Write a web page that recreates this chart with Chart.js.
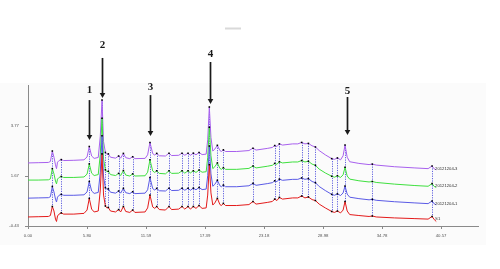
<!DOCTYPE html>
<html>
<head>
<meta charset="utf-8">
<script src="https://cdn.jsdelivr.net/npm/chart.js@4/dist/chart.umd.min.js"></script>
<style>
html,body{margin:0;padding:0;background:#fff;}
canvas{display:block;}
</style>
</head>
<body>
<canvas id="c" width="500" height="269"></canvas>
<script>
// retention times (min)
const times = [0,1.0,2.0,2.2,2.39,2.55,2.7,2.8,2.9,3.05,3.27,3.5,4.5,5.5,5.8,6.02,6.25,6.5,6.9,7.1,7.27,7.42,7.6,7.75,7.89,8.1,8.6,8.9,9.1,9.37,9.6,10.0,10.28,10.5,11.5,11.75,11.98,12.25,12.45,12.64,12.9,13.5,13.85,14.1,14.8,15.13,15.4,15.72,15.95,16.24,16.5,16.8,17.1,17.5,17.65,17.81,17.97,18.15,18.35,18.6,18.85,19.0,19.19,19.4,20.5,21.7,22.1,22.4,23.5,24.0,24.23,24.45,24.69,25.0,26.0,26.5,26.88,27.2,27.54,27.9,28.23,28.6,29.2,29.83,30.1,30.39,30.7,30.95,31.14,31.35,31.6,32.5,33.5,33.82,34.2,36.0,38.0,39.3,39.69,39.9,40.1];

const seriesNames = ['S1','20121204-1','20121204-2','20121204-3'];

const s1 = [-0.05,-0.04,-0.03,0.01,0.39,0.20,-0.14,-0.24,-0.01,0.07,0.12,0.07,0.07,0.10,0.24,0.73,0.28,0.16,0.20,1.08,2.60,0.87,0.41,0.33,0.35,0.20,0.16,0.26,0.16,0.39,0.18,0.14,0.24,0.14,0.16,0.33,0.87,0.37,0.31,0.39,0.26,0.24,0.39,0.26,0.28,0.39,0.28,0.39,0.28,0.39,0.31,0.43,0.31,0.33,0.87,2.15,0.96,0.45,0.54,0.73,0.47,0.43,0.52,0.43,0.43,0.47,0.60,0.49,0.56,0.60,0.70,0.64,0.77,0.70,0.75,0.75,0.83,0.75,0.79,0.68,0.64,0.49,0.33,0.18,0.14,0.20,0.12,0.24,0.60,0.20,0.05,0.01,-0.03,-0.01,-0.05,-0.09,-0.12,-0.14,-0.03,-0.16,-0.24];

const s2 = [-0.04,-0.03,-0.02,0.02,0.45,0.22,-0.08,-0.20,0.00,0.08,0.12,0.08,0.08,0.10,0.22,0.66,0.26,0.16,0.20,1.05,2.58,0.85,0.40,0.33,0.35,0.21,0.17,0.26,0.17,0.37,0.19,0.15,0.23,0.15,0.17,0.31,0.83,0.36,0.30,0.37,0.27,0.26,0.38,0.28,0.29,0.38,0.29,0.38,0.29,0.38,0.31,0.41,0.32,0.34,0.90,2.15,0.98,0.46,0.54,0.71,0.48,0.44,0.51,0.44,0.44,0.48,0.58,0.50,0.57,0.61,0.69,0.65,0.76,0.71,0.75,0.75,0.81,0.75,0.78,0.66,0.61,0.45,0.28,0.12,0.08,0.14,0.07,0.18,0.47,0.13,0.00,-0.06,-0.11,-0.09,-0.13,-0.19,-0.24,-0.27,-0.16,-0.28,-0.32];

const s3 = [-0.02,-0.02,-0.01,0.03,0.46,0.24,-0.06,-0.18,0.02,0.09,0.13,0.09,0.09,0.11,0.23,0.66,0.27,0.17,0.21,1.06,2.58,0.86,0.41,0.33,0.35,0.21,0.17,0.26,0.17,0.38,0.19,0.15,0.24,0.15,0.16,0.31,0.83,0.36,0.30,0.37,0.26,0.24,0.37,0.26,0.27,0.37,0.27,0.37,0.28,0.37,0.30,0.40,0.31,0.33,0.92,2.20,1.00,0.46,0.54,0.70,0.47,0.43,0.50,0.43,0.43,0.47,0.57,0.49,0.56,0.60,0.68,0.64,0.75,0.70,0.74,0.74,0.80,0.74,0.77,0.65,0.60,0.44,0.28,0.14,0.10,0.16,0.09,0.20,0.52,0.15,0.02,-0.05,-0.10,-0.08,-0.12,-0.19,-0.25,-0.28,-0.17,-0.29,-0.33];

const s4 = [-0.02,-0.01,0.00,0.04,0.48,0.22,-0.10,-0.26,0.01,0.08,0.12,0.08,0.09,0.11,0.23,0.67,0.27,0.17,0.21,1.10,2.62,0.88,0.42,0.34,0.36,0.22,0.18,0.27,0.18,0.38,0.20,0.16,0.24,0.16,0.17,0.32,0.84,0.37,0.31,0.38,0.28,0.27,0.39,0.29,0.30,0.39,0.30,0.39,0.30,0.39,0.32,0.42,0.33,0.35,0.95,2.33,1.05,0.48,0.56,0.72,0.50,0.46,0.53,0.46,0.46,0.50,0.60,0.52,0.59,0.63,0.71,0.67,0.78,0.73,0.78,0.78,0.84,0.78,0.80,0.70,0.65,0.50,0.32,0.16,0.13,0.19,0.11,0.28,0.73,0.22,0.03,-0.04,-0.09,-0.07,-0.11,-0.18,-0.23,-0.26,-0.15,-0.27,-0.31];

// peaks marked on every trace (retention times)
const peakTimes = [2.39,3.27,6.02,7.27,7.6,7.89,8.9,9.37,10.28,11.98,12.64,13.85,15.13,15.72,16.24,16.8,17.81,18.6,19.19,22.1,24.23,24.69,26.88,27.54,28.23,29.83,30.39,31.14,33.82,39.69];

// axis ticks
const xTickValues = [0,5.796,11.591,17.387,23.183,28.979,34.774,40.57];
const xTickLabels = ['0.00','5.80','11.59','17.39','23.18','28.98','34.78','40.57'];
const yTickValues = [-0.43,1.67,3.77];
const yTickLabels = ['-0.43','1.67','3.77'];

// numbered arrows
const arrowLabels = ['1','2','3','4','5'];
const arrowTimes = [6.02,7.27,11.95,17.9,31.3];

// ---- display settings (not data) ----
const stackOffsets = [0, 0.78, 1.52, 2.24];
const colors = ['#e41a1a','#5a5ae6','#3fe03f','#a860ee'];
const arrowTail = [4.86,6.63,5.07,6.46,4.99];
const arrowTip = [3.18,4.95,3.35,4.70,3.39];
const arrowText = [5.28,7.17,5.41,6.80,5.24];

const series = [s1,s2,s3,s4];
const peakSet = new Set(peakTimes);

const datasets = series.map((vals, i) => ({
  label: seriesNames[i],
  data: times.map((t, j) => ({x: t, y: vals[j] + stackOffsets[i]})),
  borderColor: colors[i],
  borderWidth: 1,
  tension: 0,
  fill: false,
  pointStyle: 'rect',
  pointRadius: ctx => (ctx.raw && peakSet.has(ctx.raw.x)) ? 1.1 : 0,
  pointBackgroundColor: '#000',
  pointBorderColor: '#000',
  pointBorderWidth: 0,
  pointHoverRadius: 0
}));

const bgPlugin = {
  id: 'bg',
  beforeDraw(chart) {
    const c = chart.ctx;
    c.save();
    c.fillStyle = '#fbfbfb';
    c.fillRect(0, 83, 486, 162);
    // small gray mark near the top
    c.strokeStyle = '#d9d9d9';
    c.lineWidth = 2;
    c.beginPath(); c.moveTo(225, 28.5); c.lineTo(241, 28.5); c.stroke();
    c.restore();
  }
};

const dotPlugin = {
  id: 'dots',
  beforeDatasetsDraw(chart) {
    const c = chart.ctx;
    const top = chart.getDatasetMeta(3).data;
    const bot = chart.getDatasetMeta(0).data;
    c.save();
    c.strokeStyle = '#5050dc';
    c.lineWidth = 0.9;
    c.setLineDash([1.2, 1.2]);
    times.forEach((t, j) => {
      if (!peakSet.has(t)) return;
      const x = Math.round(top[j].x) + 0.5;
      c.beginPath();
      c.moveTo(x, top[j].y);
      c.lineTo(x, bot[j].y);
      c.stroke();
    });
    c.restore();
  },
  afterDraw(chart) {
    const c = chart.ctx;
    const xs = chart.scales.x, ys = chart.scales.y;
    c.save();
    // series labels at right end
    c.fillStyle = '#333';
    c.font = '4.2px "Liberation Sans"';
    c.textBaseline = 'middle';
    c.textAlign = 'left';
    const lastPeak = times.indexOf(39.69);
    series.forEach((v, i) => {
      const el = chart.getDatasetMeta(i).data[lastPeak];
      c.fillText(seriesNames[i], el.x + 3, el.y + 2.5);
    });
    // arrows
    arrowLabels.forEach((lab, i) => {
      const x = Math.round(xs.getPixelForValue(arrowTimes[i])) + 0.5;
      const y0 = ys.getPixelForValue(arrowTail[i]);
      const y1 = ys.getPixelForValue(arrowTip[i]);
      const yt = ys.getPixelForValue(arrowText[i]);
      c.strokeStyle = '#1a1a1a';
      c.fillStyle = '#1a1a1a';
      c.lineWidth = 1.7;
      c.setLineDash([]);
      c.beginPath(); c.moveTo(x, y0); c.lineTo(x, y1 - 4); c.stroke();
      c.beginPath();
      c.moveTo(x - 2.8, y1 - 5); c.lineTo(x + 2.8, y1 - 5); c.lineTo(x, y1); c.closePath(); c.fill();
      c.font = 'bold 11px "Liberation Serif"';
      c.textAlign = 'center';
      c.textBaseline = 'middle';
      c.fillText(lab, x, yt);
    });
    c.restore();
  }
};

const axisCommon = {
  grid: {drawOnChartArea: false, drawTicks: true, tickLength: 3, color: '#8a8a8a', lineWidth: 1},
  border: {display: true, color: '#8a8a8a', width: 1}
};

new Chart(document.getElementById('c'), {
  type: 'line',
  data: {datasets},
  options: {
    responsive: false,
    animation: false,
    devicePixelRatio: 1,
    layout: {padding: {left: 0, right: 22, top: 85, bottom: 0}},
    plugins: {legend: {display: false}, tooltip: {enabled: false}},
    scales: {
      x: Object.assign({
        type: 'linear', min: 0, max: 44.2,
        afterFit(s) { s.height = 43; },
        afterBuildTicks(s) { s.ticks = xTickValues.map(v => ({value: v})); },
        ticks: {
          callback: (v, i) => xTickLabels[i],
          font: {size: 4.3, family: 'Liberation Sans'},
          color: '#555', padding: 4, maxRotation: 0, autoSkip: false
        }
      }, axisCommon),
      y: Object.assign({
        type: 'linear', min: -0.43, max: 5.494,
        afterFit(s) { s.width = 28; },
        afterBuildTicks(s) { s.ticks = yTickValues.map(v => ({value: v})); },
        ticks: {
          callback: (v, i) => yTickLabels[i],
          font: {size: 4.3, family: 'Liberation Sans'},
          color: '#555', padding: 6, autoSkip: false
        }
      }, axisCommon)
    }
  },
  plugins: [bgPlugin, dotPlugin]
});
</script>
</body>
</html>
